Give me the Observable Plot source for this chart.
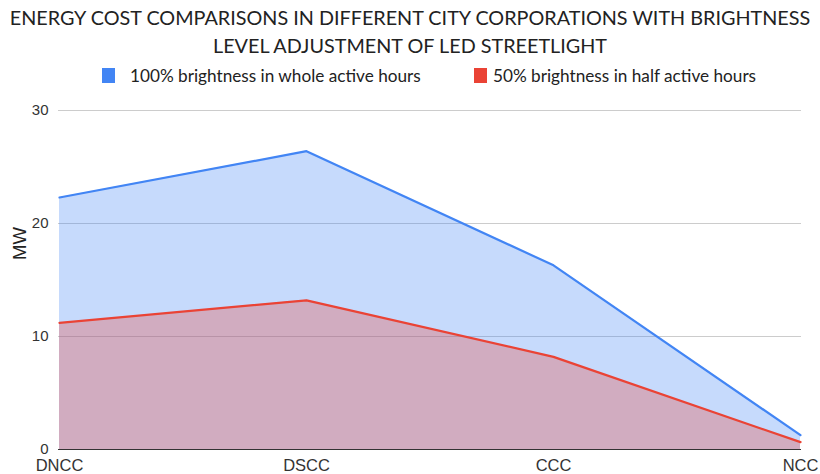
<!DOCTYPE html>
<html><head><meta charset="utf-8">
<script src="https://cdn.jsdelivr.net/npm/d3@7"></script>
<script src="https://cdn.jsdelivr.net/npm/@observablehq/plot@0.6"></script>
<style>
body{margin:0;background:#fff;font-family:Lato,"Open Sans",sans-serif;}
#wrap{width:820px;height:474px;overflow:hidden;position:relative;}
#title{height:62px;text-align:center;font-size:19.8px;line-height:28px;color:#222;padding-top:3px;box-sizing:border-box;white-space:nowrap;}
#legend{height:33px;position:relative;font-size:17.2px;color:#222;}
.sw{position:absolute;width:13px;height:15px;top:6px;}
.lt{position:absolute;top:3px;}
</style></head>
<body><div id="wrap">
<div id="title">ENERGY COST COMPARISONS IN DIFFERENT CITY CORPORATIONS WITH BRIGHTNESS<br>LEVEL ADJUSTMENT OF LED STREETLIGHT</div>
<div id="legend">
<div class="sw" style="left:102px;background:#4285f4"></div><div class="lt" style="left:130px">100% brightness in whole active hours</div>
<div class="sw" style="left:474px;background:#ea4335"></div><div class="lt" style="left:493px">50% brightness in half active hours</div>
</div>
<div id="chart"></div>
</div>
<script>
const cities = ["DNCC","DSCC","CCC","NCC"];
const full = [22.3, 26.4, 16.3, 1.27];
const half = [11.2, 13.2, 8.2, 0.65];
const yTicks = [0,10,20,30];
const seriesNames = ["100% brightness in whole active hours","50% brightness in half active hours"];

const dFull = cities.map((c,i)=>({city:c, v:full[i]}));
const dHalf = cities.map((c,i)=>({city:c, v:half[i]}));

const chart = Plot.plot({
  width: 820, height: 379,
  marginTop: 15, marginBottom: 25, marginLeft: 58, marginRight: 19,
  style: {fontFamily: "'Liberation Sans', Arial, sans-serif", fontSize: "15px", color: "#333", background: "#fff", overflow: "visible"},
  x: {type: "point", domain: cities, padding: 0, label: null},
  y: {domain: [0,30], label: null},
  marks: [
    Plot.gridY(yTicks, {stroke: "#ccc", strokeOpacity: 1}),
    Plot.areaY(dFull, {x: "city", y: "v", fill: "#4285f4", fillOpacity: 0.3}),
    Plot.areaY(dHalf, {x: "city", y: "v", fill: "#ea4335", fillOpacity: 0.3}),
    Plot.lineY(dFull, {x: "city", y: "v", stroke: "#4285f4", strokeWidth: 2.2}),
    Plot.lineY(dHalf, {x: "city", y: "v", stroke: "#ea4335", strokeWidth: 2.2}),
    Plot.ruleY([0], {stroke: "#333", strokeWidth: 1.2}),
    Plot.axisY({ticks: yTicks, tickSize: 0, tickPadding: 10, tickFormat: d3.format("d"), label: null, fontSize: 15}),
    Plot.axisX({tickSize: 0, tickPadding: 10, label: null, fontSize: 16.5}),
    Plot.text(["MW"], {frameAnchor: "left", dx: -38, dy: -20, rotate: -90, fontSize: 18.5, fill: "#222"})
  ]
});
document.getElementById("chart").appendChild(chart);
</script>
</body></html>
